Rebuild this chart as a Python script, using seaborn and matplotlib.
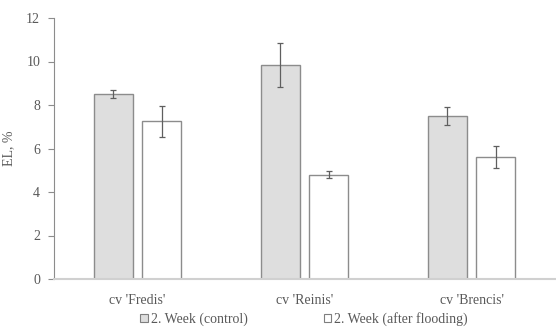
import matplotlib
matplotlib.use("Agg")
import matplotlib.pyplot as plt
import seaborn as sns
import pandas as pd
from matplotlib.patches import Patch

cultivars = ["cv 'Fredis'", "cv 'Reinis'", "cv 'Brencis'"]
series = ["2. Week (control)", "2. Week (after flooding)"]
control = [8.5, 9.85, 7.5]
control_err = [0.2, 1.0, 0.4]
flooded = [7.25, 4.8, 5.6]
flooded_err = [0.7, 0.15, 0.5]
yticks = [0, 2, 4, 6, 8, 10, 12]

sns.set_theme(style="white")
plt.rcParams["font.family"] = ["Liberation Serif", "DejaVu Serif"]

df = pd.DataFrame({
    "cultivar": cultivars * 2,
    "series": [series[0]] * 3 + [series[1]] * 3,
    "value": control + flooded,
    "err": control_err + flooded_err,
})

fig = plt.figure(figsize=(5.56, 3.27), dpi=100)
ax = fig.add_axes([54 / 556, 1 - 279 / 327, 501 / 556, 261 / 327])

colors = {series[0]: "#dedede", series[1]: "#ffffff"}
sns.barplot(data=df, x="cultivar", y="value", hue="series", order=cultivars,
            hue_order=series, palette=colors, width=0.575, gap=0.2,
            edgecolor="#8c8c8c", linewidth=1.0, errorbar=None, legend=False, ax=ax)

# error bars at bar centres
errs = control_err + flooded_err
vals = control + flooded
for p, v, e in zip(ax.patches, vals, errs):
    cx = p.get_x() + p.get_width() / 2
    ax.errorbar(cx, v, yerr=e, fmt="none", ecolor="#5f5f5f", elinewidth=0.9,
                capsize=2.5, capthick=0.9)

ax.set_xlim(-0.5, 2.5)
ax.set_ylim(0, 12)
ax.set_yticks(yticks)
ax.set_yticklabels([str(t) for t in yticks])
ax.set_xlabel("")
ax.set_ylabel("EL, %", fontsize=10, color="#595959")
ax.yaxis.set_label_coords(-0.078, 0.5)
ax.tick_params(axis="y", which="both", left=True, length=4, width=0.8,
               color="#8c8c8c", labelsize=10, labelcolor="#595959", pad=6)
ax.tick_params(axis="x", bottom=False, labelsize=10, labelcolor="#595959", pad=5)
for s in ["top", "right"]:
    ax.spines[s].set_visible(False)
ax.spines["left"].set_color("#8c8c8c")
ax.spines["left"].set_linewidth(0.8)
ax.spines["bottom"].set_color("#d0d0d0")
ax.spines["bottom"].set_linewidth(1.5)

handles = [Patch(facecolor=colors[s], edgecolor="#7f7f7f", linewidth=0.8, label=s) for s in series]
fig.legend(handles=handles, loc="center", bbox_to_anchor=(304 / 556, 1 - 319 / 327),
           ncol=2, frameon=False, fontsize=10, handlelength=0.55, handleheight=0.55,
           handletextpad=0.2, columnspacing=5.5, labelcolor="#595959",
           borderpad=0.0, borderaxespad=0.0)

fig.savefig("out.png", dpi=100)
